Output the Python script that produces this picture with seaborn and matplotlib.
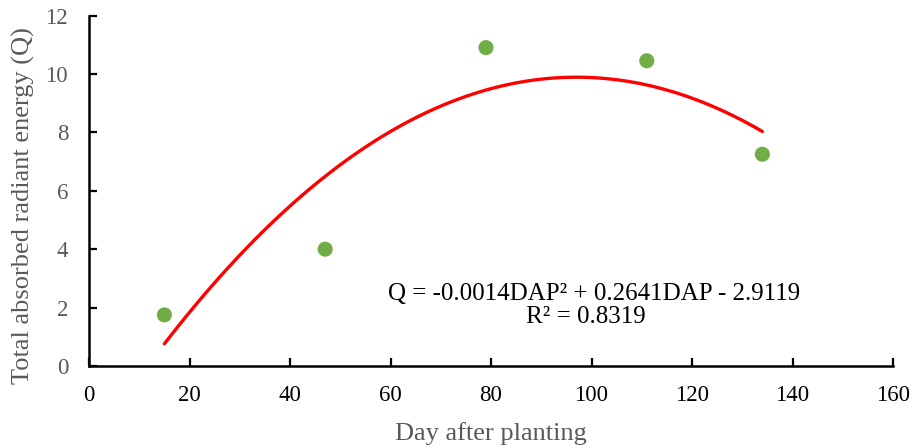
import matplotlib
matplotlib.use("Agg")
import matplotlib.pyplot as plt
import seaborn as sns
import pandas as pd

# Data
dap = [15, 47, 79, 111, 134]
q_values = [1.75, 4.0, 10.9, 10.45, 7.25]
x_ticks = [0, 20, 40, 60, 80, 100, 120, 140, 160]
y_ticks = [0, 2, 4, 6, 8, 10, 12]
equation_line1 = "Q = -0.0014DAP² + 0.2641DAP - 2.9119"
equation_line2 = "R² = 0.8319"

df = pd.DataFrame({"DAP": dap, "Q": q_values})

sns.set_theme(style="white")
plt.rcParams["font.family"] = ["Liberation Serif", "DejaVu Serif"]

fig = plt.figure(figsize=(9.13, 4.48), dpi=100)
ax = fig.add_axes([89 / 913, 82 / 448, (893 - 89) / 913, (366 - 15.5) / 448])

sns.regplot(data=df, x="DAP", y="Q", order=2, ci=None, ax=ax,
            scatter_kws=dict(s=118, color="#70AD47", edgecolor="none", alpha=1, zorder=3),
            line_kws=dict(color="#FF0000", lw=2.4, zorder=2))

ax.set_xlim(0, 160)
ax.set_ylim(0, 12)
ax.set_xticks(x_ticks)
ax.set_yticks(y_ticks)

gray = "#595959"
ax.set_xlabel("Day after planting", fontsize=19, color=gray)
ax.set_ylabel("Total absorbed radiant energy (Q)", fontsize=19, color=gray)
ax.xaxis.set_label_coords(0.5, -0.16)
ax.yaxis.set_label_coords(-0.067, 0.459)

ax.tick_params(axis="x", direction="in", length=6, width=1.6, colors="black",
               labelsize=16.5, pad=14, bottom=True)
ax.tick_params(axis="y", direction="in", length=6, width=1.6, color="black",
               labelcolor=gray, labelsize=16.5, pad=15, left=True)

for side in ["top", "right"]:
    ax.spines[side].set_visible(False)
for side in ["left", "bottom"]:
    ax.spines[side].set_color("black")
    ax.spines[side].set_linewidth(1.8)

ax.text(100.5, 2.263, equation_line1, ha="center", va="baseline", fontsize=18, color="black")
ax.text(98.8, 1.464, equation_line2, ha="center", va="baseline", fontsize=18, color="black")

fig.savefig("out.png", dpi=100)
